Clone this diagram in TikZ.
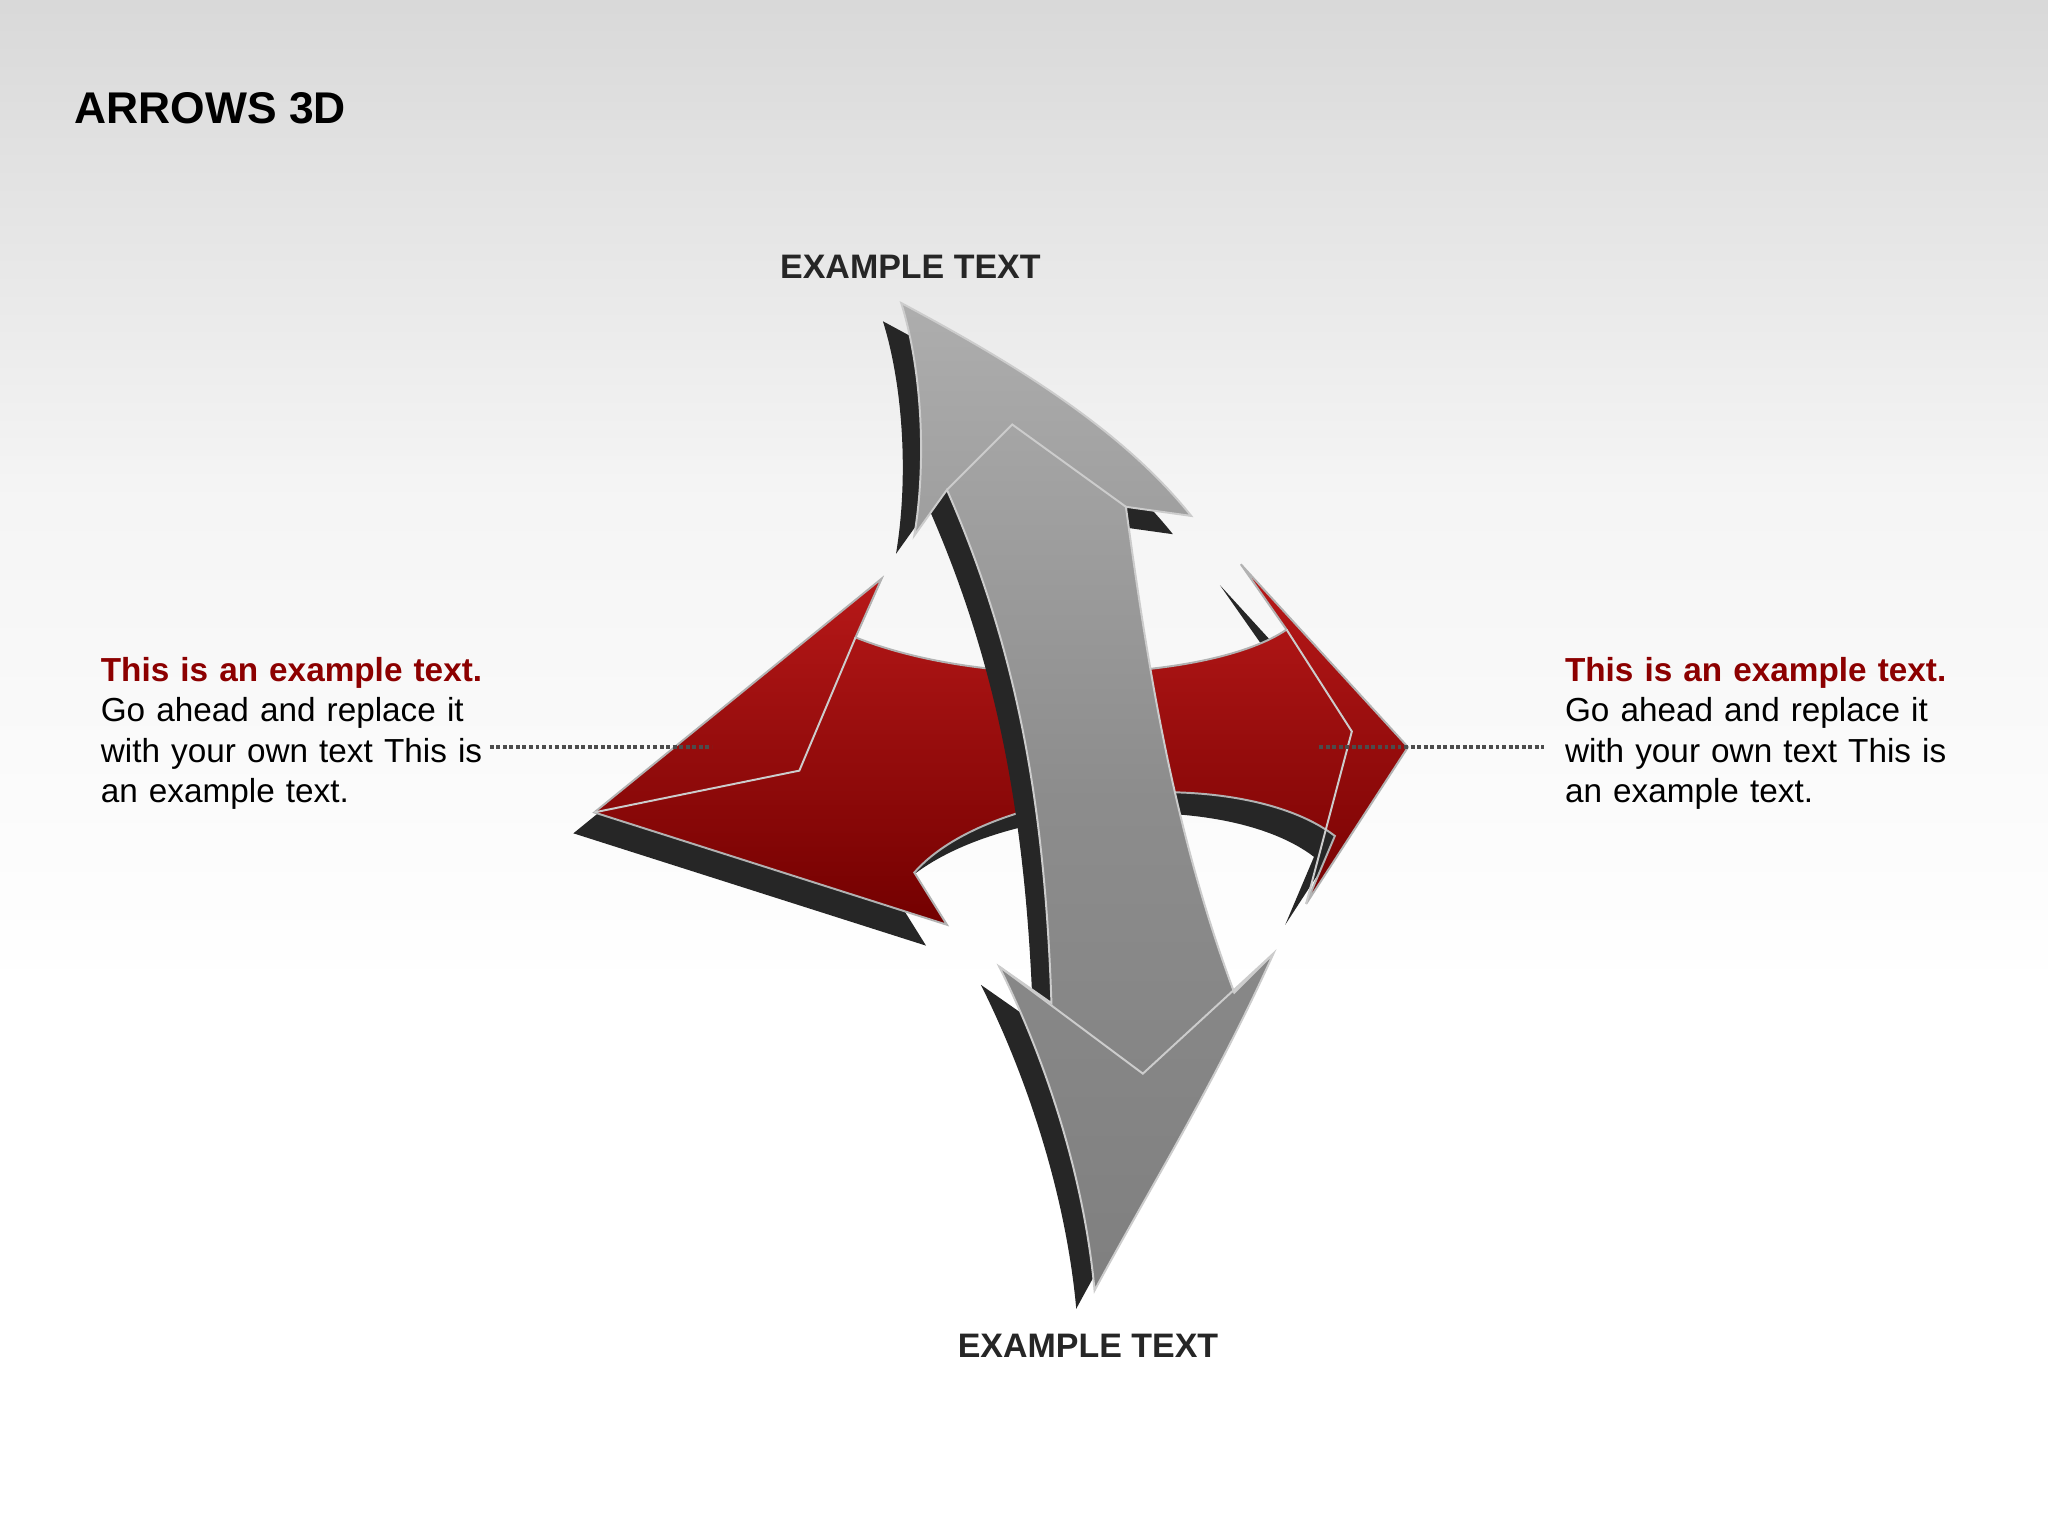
\documentclass[tikz,border=0pt]{standalone}
\usepackage{fontspec}
\setmainfont{Liberation Sans}
\begin{document}
\begin{tikzpicture}[x=1pt,y=-1pt,
  hd/.style={font=\bfseries\fontsize{26}{30}\selectfont,text=black!85},
  body/.style={font=\fontsize{25.5}{31}\selectfont,align=left,text width=300pt,anchor=north west,inner sep=0pt},
  dotl/.style={dotted,line width=3pt,black!70}]
\shade[top color=black!15,bottom color=white,middle color=black!4] (0,0) rectangle (1568,760);
\fill[white] (0,759) rectangle (1568,1176);
\useasboundingbox (0,0) rectangle (1568,1176);
\node[anchor=west,inner sep=0pt,font=\bfseries\fontsize{34}{38}\selectfont] (title) at (57,83) {ARROWS 3D};
\node[hd] (top) at (697,204) {EXAMPLE TEXT};
\node[hd] (bot) at (833,1030) {EXAMPLE TEXT};
% red arrow
\def\redpath{(455,622) -- (675,443) -- (655,488) .. controls (760,530) and (930,520) .. (985,482) -- (950,432) -- (1078,572) -- (1000,692) -- (1022,640) .. controls (950,585) and (760,600) .. (700,668) -- (725,708) -- cycle}
\fill[black!85,shift={(-16,16)}] \redpath;
\shade[top color=red!70!black!90,bottom color=red!45!black,draw=black!30,line width=1.5pt] \redpath;
% gray arrow
\def\graypath{(690,232) .. controls (780,280) and (860,330) .. (912,395) -- (862,388) .. controls (880,520) and (900,640) .. (945,760) -- (975,730) .. controls (930,830) and (880,910) .. (838,988) .. controls (830,900) and (800,810) .. (765,740) -- (805,768) .. controls (800,620) and (780,500) .. (725,375) -- (700,410) .. controls (710,350) and (705,280) .. cycle}
\fill[black!85,shift={(-14,14)}] \graypath;
\shade[top color=black!32,bottom color=black!50,middle color=black!45,draw=black!20,line width=1.5pt] \graypath;
\draw[black!20,line width=1.5pt] (725,375) -- (775,325) -- (862,388);
\draw[black!20,line width=1.5pt] (765,740) -- (875,822) -- (975,730);
\draw[black!20,line width=1.5pt] (455,622) -- (612,590) -- (655,488);
\draw[black!20,line width=1.5pt] (1000,692) -- (1035,560) -- (985,482);
% side texts
\node[body] (lt) at (77,503) {\textcolor{red!55!black}{\bfseries This is an example text.}\\Go ahead and replace it with your own text This is an example text.};
\node[body] (rt) at (1198,503) {\textcolor{red!55!black}{\bfseries This is an example text.}\\Go ahead and replace it with your own text This is an example text.};
\coordinate (l1) at (375,572); \coordinate (l2) at (545,572);
\coordinate (r1) at (1010,572); \coordinate (r2) at (1182,572);
\draw[dotl] (l1) -- (l2);
\draw[dotl] (r1) -- (r2);
\end{tikzpicture}
\end{document}
